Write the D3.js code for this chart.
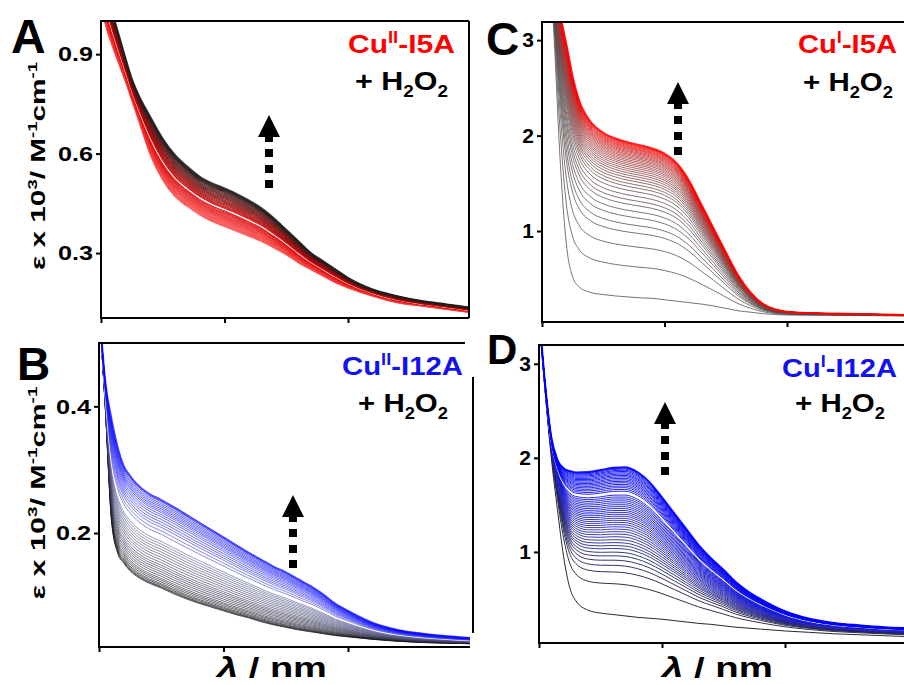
<!DOCTYPE html>
<html>
<head>
<meta charset="utf-8">
<script src="https://cdn.jsdelivr.net/npm/d3@7"></script>
<style>
  html, body { margin: 0; padding: 0; background: #fff; overflow: hidden; }
  svg { display: block; }
  text { font-family: Arial, "Liberation Sans", sans-serif; font-weight: bold; }
</style>
</head>
<body>
<div id="fig"></div>
<script>
// wavelength grid (nm), shared by all four panels
var wavelengths = [300,305,310,315,320,325,330,340,350,360,370,380,390,400,410,420,430,440,450,460,470,480,490,500,520,540,560,580,600];
var xTicks = [300, 400, 500];

// A: Cu(II)-I5A + H2O2  (eps x 10^3)
var startA = [1.04,0.97,0.915,0.865,0.815,0.76,0.705,0.595,0.52,0.47,0.44,0.415,0.395,0.38,0.365,0.35,0.335,0.315,0.295,0.27,0.25,0.23,0.21,0.195,0.17,0.15,0.14,0.13,0.12];
var endA   = [1.18,1.09,1.015,0.95,0.885,0.825,0.78,0.71,0.645,0.595,0.56,0.53,0.51,0.495,0.478,0.458,0.435,0.405,0.37,0.335,0.30,0.275,0.25,0.225,0.19,0.17,0.155,0.145,0.135];
var levelsA = [0,0.025,0.05,0.08,0.11,0.14,0.17,0.2,0.23,0.26,0.29,0.32,0.35,0.38,0.41,0.45,0.48,0.51,0.54,0.57,0.6,0.63,0.66,0.69,0.72,0.75,0.78,0.81,0.84,0.87,0.9,0.92,0.94,0.96,0.98,1];
var whiteA = 15;
var yTicksA = [0.3, 0.6, 0.9];

// B: Cu(II)-I12A + H2O2
var startB = [0.56,0.40,0.22,0.168,0.152,0.14,0.132,0.121,0.113,0.104,0.096,0.089,0.083,0.077,0.071,0.066,0.06,0.055,0.051,0.047,0.044,0.041,0.038,0.036,0.032,0.029,0.027,0.026,0.025];
var endB   = [0.56,0.44,0.38,0.335,0.305,0.29,0.278,0.262,0.252,0.241,0.229,0.217,0.205,0.193,0.181,0.169,0.158,0.147,0.138,0.127,0.116,0.103,0.088,0.077,0.058,0.047,0.041,0.037,0.034];
var levelsB = [0,0.01,0.02,0.035,0.05,0.07,0.09,0.11,0.135,0.16,0.185,0.21,0.235,0.26,0.29,0.32,0.35,0.38,0.41,0.44,0.47,0.5,0.53,0.57,0.61,0.65,0.69,0.72,0.75,0.78,0.81,0.835,0.86,0.88,0.9,0.92,0.94,0.96,0.98,1];
var whiteB = 23;
var yTicksB = [0.2, 0.4];

// C: Cu(I)-I5A + H2O2
var startC = [6.0,4.2,3.0,1.7,0.85,0.52,0.42,0.355,0.335,0.32,0.31,0.30,0.295,0.28,0.265,0.25,0.235,0.215,0.19,0.165,0.15,0.135,0.125,0.12,0.118,0.116,0.114,0.112,0.11];
var endC   = [4.6,4.0,3.55,3.25,2.95,2.62,2.38,2.14,2.03,1.97,1.93,1.90,1.865,1.81,1.71,1.53,1.28,1.03,0.78,0.54,0.36,0.24,0.18,0.155,0.14,0.135,0.13,0.125,0.12];
var levelsC = [0,0.2,0.33,0.42,0.47,0.52,0.56,0.6,0.63,0.66,0.69,0.715,0.735,0.755,0.772,0.788,0.803,0.817,0.83,0.843,0.855,0.866,0.877,0.887,0.897,0.906,0.915,0.923,0.931,0.939,0.946,0.953,0.96,0.966,0.972,0.978,0.984,0.989,0.994,1];
var yTicksC = [1, 2, 3];

// D: Cu(I)-I12A + H2O2
var startD = [3.5,2.7,2.0,1.45,0.95,0.62,0.48,0.38,0.35,0.335,0.32,0.305,0.295,0.285,0.27,0.255,0.24,0.23,0.215,0.2,0.19,0.18,0.17,0.16,0.145,0.13,0.12,0.11,0.1];
var endD   = [3.55,2.78,2.22,1.98,1.89,1.86,1.845,1.85,1.87,1.895,1.9,1.85,1.74,1.58,1.41,1.24,1.07,0.93,0.81,0.68,0.58,0.5,0.43,0.37,0.29,0.245,0.22,0.2,0.19];
var levelsD = [0,0.21,0.29,0.335,0.37,0.4,0.425,0.45,0.47,0.49,0.51,0.53,0.548,0.565,0.582,0.598,0.613,0.628,0.642,0.656,0.67,0.683,0.696,0.709,0.722,0.735,0.748,0.761,0.774,0.787,0.8,0.813,0.826,0.839,0.851,0.863,0.874,0.885,0.896,0.906,0.916,0.926,0.936,0.945,0.954,0.963,0.972,0.98,0.988,0.995,1];
var whiteD = 32;
var yTicksD = [1, 2, 3];

var svg = d3.select("#fig").append("svg")
    .attr("width", 904)
    .attr("height", 685);

var panels = [
  {name:"A", start:startA, end:endA, levels:levelsA, white:whiteA, yticks:yTicksA, dec:true,
   left:101, right:469, top:21, bottom:318, step:123.5, ydom:[0.104, 1.0], lw:1.2, op:0.85,
   color:d3.scaleLinear().domain([0,0.45,1]).range(["#ff4a4a","#d80000","#1e1e1e"])},
  {name:"B", start:startB, end:endB, levels:levelsB, white:whiteB, yticks:yTicksB, dec:true,
   left:99, right:470, top:343, bottom:647, step:124.5, ydom:[0.02, 0.5], lw:0.9, op:0.75,
   color:d3.scaleLinear().domain([0,0.15,0.55,0.75,1]).range(["#111111","#303048","#6a6aa8","#2a2aff","#0a0aff"])},
  {name:"C", start:startC, end:endC, levels:levelsC, white:-1, yticks:yTicksC, dec:false,
   left:542, right:904, top:22, bottom:322, step:122.5, ydom:[0.047, 3.19], lw:0.9, op:0.85,
   color:d3.scaleLinear().domain([0,0.7,0.9,1]).range(["#4a4a4a","#5e4a4a","#a83030","#ff0000"])},
  {name:"D", start:startD, end:endD, levels:levelsD, white:whiteD, yticks:yTicksD, dec:false,
   left:539, right:904, top:345, bottom:643, step:123, ydom:[0.032, 3.2], lw:1.0, op:0.9,
   color:d3.scaleLinear().domain([0,0.3,0.6,1]).range(["#111111","#1e1e40","#2828c0","#0000ff"])}
];

panels.forEach(function(p) {
  var x = d3.scaleLinear().domain([300, 600]).range([p.left, p.left + 3 * p.step]);
  var y = d3.scaleLinear().domain(p.ydom).range([p.bottom, p.top]);

  svg.append("clipPath").attr("id", "clip" + p.name)
    .append("rect")
    .attr("x", p.left).attr("y", p.top)
    .attr("width", p.right - p.left).attr("height", p.bottom - p.top);

  var line = d3.line()
      .x(function(d, i) { return x(wavelengths[i]); })
      .y(function(d) { return y(d); })
      .curve(d3.curveMonotoneX);

  // each trace sits between the first and the last spectrum
  var traces = p.levels.map(function(f) {
    return p.start.map(function(s, i) { return s + f * (p.end[i] - s); });
  });

  svg.append("g")
    .attr("clip-path", "url(#clip" + p.name + ")")
    .selectAll("path")
    .data(traces)
    .enter()
    .append("path")
    .attr("d", line)
    .attr("fill", "none")
    .attr("stroke", function(d, i) { return i === p.white ? "#ffffff" : p.color(p.levels[i]); })
    .attr("stroke-width", function(d, i) {
      if (i === p.white) return 1.6;
      if (i === traces.length - 1) return 2;
      return p.lw;
    })
    .attr("stroke-opacity", function(d, i) { return i === p.white ? 1 : p.op; });

  // axes (no tick labels on x)
  var xa = svg.append("g")
    .attr("transform", "translate(0," + p.bottom + ")")
    .call(d3.axisBottom(x).tickValues(xTicks).tickFormat("").tickSize(5).tickSizeOuter(0));
  xa.select(".domain").remove();
  xa.selectAll("line").attr("stroke", "#000").attr("stroke-width", 2);

  var ya = svg.append("g")
    .attr("transform", "translate(" + p.left + ",0)")
    .call(d3.axisLeft(y).tickValues(p.yticks).tickFormat(d3.format(p.dec ? ".1f" : "d")).tickSize(5).tickPadding(3));
  ya.select(".domain").remove();
  ya.selectAll("line").attr("stroke", "#000").attr("stroke-width", 2);
  ya.selectAll("text")
    .attr("font-size", 21)
    .attr("fill", "#000")
    .attr("font-family", "Arial, 'Liberation Sans', sans-serif");
  if (p.dec) {
    // decimal labels are drawn wider in the original
    ya.selectAll("text").attr("transform", "translate(-8,0) scale(1.2,1) translate(8,0)");
  }

  // frame
  var frame = svg.append("g").attr("stroke", "#000").attr("stroke-width", 2);
  frame.append("line").attr("x1", p.left).attr("x2", p.left).attr("y1", p.top - 1).attr("y2", p.bottom + 1);
  frame.append("line").attr("x1", p.left).attr("x2", p.right).attr("y1", p.bottom).attr("y2", p.bottom);
  if (p.name === "B") {
    frame.append("line").attr("x1", p.left).attr("x2", 465).attr("y1", p.top).attr("y2", p.top);
    frame.append("line").attr("x1", 473).attr("x2", 473).attr("y1", 377).attr("y2", 633);
  } else {
    frame.append("line").attr("x1", p.left).attr("x2", p.right).attr("y1", p.top).attr("y2", p.top);
  }
  if (p.name === "A") {
    frame.append("line").attr("x1", p.right).attr("x2", p.right).attr("y1", p.top).attr("y2", p.bottom);
  }
});

// text with super/subscripts, stretched sideways to a given width
function rich(x, y, parts, size, fill, len, rotate) {
  var t = svg.append("text")
    .attr("x", 0).attr("y", 0)
    .attr("font-size", size)
    .attr("fill", fill);
  if (rotate) t.attr("text-anchor", "middle");
  var shift = 0;
  parts.forEach(function(pt) {
    var want = pt[1] === "sup" ? -size * 0.38 : pt[1] === "sub" ? size * 0.25 : 0;
    var s = t.append("tspan").attr("dy", want - shift).text(pt[0]);
    if (pt[1] === "sup" || pt[1] === "sub") s.attr("font-size", size * 0.62);
    if (pt[1] === "it") s.attr("font-style", "italic");
    shift = want;
  });
  var w = t.node().getComputedTextLength();
  var sx = len && w ? len / w : 1;
  t.attr("transform", "translate(" + x + "," + y + ")" + (rotate ? " rotate(-90)" : "") + " scale(" + sx + ",1)");
  return t;
}

// panel letters
svg.append("text").attr("x", 11).attr("y", 53).attr("font-size", 48).text("A");
svg.append("text").attr("x", 17).attr("y", 380).attr("font-size", 46).text("B");
svg.append("text").attr("x", 486).attr("y", 55).attr("font-size", 46).text("C");
svg.append("text").attr("x", 487).attr("y", 364).attr("font-size", 42).text("D");

// y titles
var yTitle = [["ε x 10", ""], ["3", "sup"], ["/ M", ""], ["-1", "sup"], ["cm", ""], ["-1", "sup"]];
rich(45, 166, yTitle, 21, "#000", 208, true);
rich(45, 493, yTitle, 21, "#000", 213, true);

// x titles
var xTitle = [["λ", "it"], [" / nm", ""]];
rich(217, 677, xTitle, 27, "#000", 110);
rich(662, 677, xTitle, 27, "#000", 111);

// sample labels
var red = "#ff0000", blue = "#1212ee";
rich(348, 53, [["Cu", ""], ["II", "sup"], ["-I5A", ""]], 26, red, 107);
rich(798, 53, [["Cu", ""], ["I", "sup"], ["-I5A", ""]], 26, red, 99);
rich(342, 375, [["Cu", ""], ["II", "sup"], ["-I12A", ""]], 26, blue, 121);
rich(782, 377, [["Cu", ""], ["I", "sup"], ["-I12A", ""]], 26, blue, 115);
var h2o2 = [["+ H", ""], ["2", "sub"], ["O", ""], ["2", "sub"]];
rich(355, 90, h2o2, 26, "#000", 93);
rich(803, 91, h2o2, 26, "#000", 90);
rich(358, 412, h2o2, 26, "#000", 90);
rich(795, 412, h2o2, 26, "#000", 90);

// dashed arrows
function arrow(cx, top) {
  var g = svg.append("g").attr("fill", "#000");
  g.append("path").attr("d",
    "M" + cx + "," + top +
    "L" + (cx + 11) + "," + (top + 22) +
    "L" + (cx + 4) + "," + (top + 22) +
    "L" + (cx + 4) + "," + (top + 27) +
    "L" + (cx - 4) + "," + (top + 27) +
    "L" + (cx - 4) + "," + (top + 22) +
    "L" + (cx - 11) + "," + (top + 22) + "Z");
  [34, 50, 65].forEach(function(o) {
    g.append("rect").attr("x", cx - 4).attr("y", top + o).attr("width", 8).attr("height", 8);
  });
}
arrow(269, 115);
arrow(678, 82);
arrow(293, 495);
arrow(665, 402);
</script>
</body>
</html>
